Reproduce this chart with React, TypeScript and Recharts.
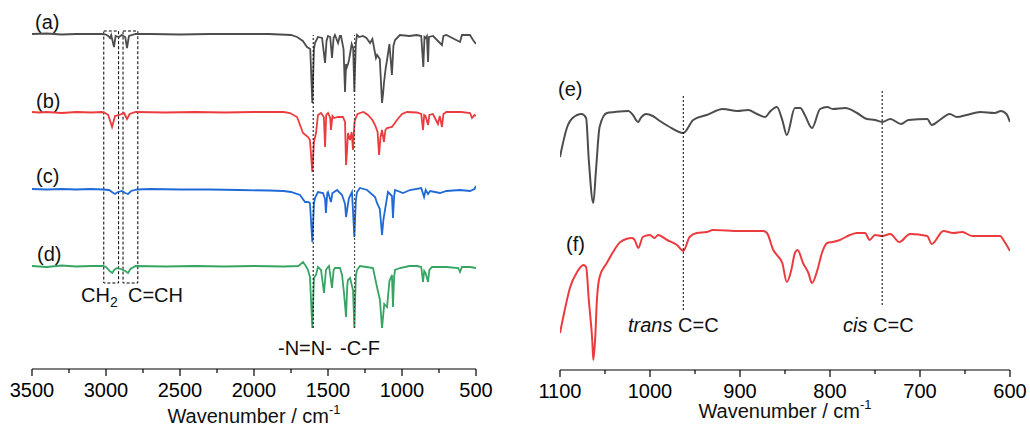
import { LineChart, Line, XAxis, YAxis, ReferenceLine, ReferenceArea } from 'recharts';

const FONT = '"Liberation Sans", Arial, sans-serif';

// FTIR spectra: [wavenumber (cm-1), relative transmittance]
const specA = [
  [3500, 100], [3400, 100.5], [3300, 99.5], [3200, 100], [3100, 100], [3030, 100], [3000, 99.5], [2985, 98], [2973, 96],
  [2965, 99], [2946, 87], [2935, 98], [2912, 97], [2895, 99], [2870, 97], [2858, 86], [2845, 98], [2800, 100], [2700, 100],
  [2500, 99.5], [2300, 100], [2100, 100], [1900, 100], [1750, 99], [1709, 97], [1670, 93], [1642, 87], [1620, 85], [1606, 31],
  [1595, 85], [1588, 91], [1568, 97], [1540, 96], [1520, 71], [1510, 93], [1500, 98], [1485, 97], [1473, 76], [1462, 96],
  [1453, 99], [1432, 91], [1420, 98], [1412, 98], [1395, 85], [1385, 42], [1378, 70], [1372, 67], [1365, 70], [1358, 74],
  [1340, 90], [1330, 86], [1322, 42], [1312, 90], [1304, 99], [1290, 97], [1264, 98], [1240, 96], [1216, 91], [1200, 95],
  [1176, 76], [1168, 79], [1150, 75], [1135, 31], [1128, 40], [1122, 51], [1110, 66], [1101, 74], [1085, 90], [1068, 59],
  [1058, 88], [1047, 94], [1014, 99], [950, 98], [900, 99], [870, 98], [856, 67], [848, 97], [841, 96], [832, 98], [824, 72],
  [818, 97], [790, 98], [730, 89], [720, 98], [700, 99], [608, 92], [595, 99], [560, 99], [541, 99], [520, 94], [500, 90],
];

const specB = [
  [3500, 100], [3450, 99.5], [3400, 100], [3300, 99], [3200, 100], [3100, 99.5], [3030, 100], [3010, 99.5], [2985, 97],
  [2965, 88], [2959, 85], [2950, 90], [2939, 96], [2910, 97], [2878, 99], [2868, 96], [2858, 93], [2840, 98], [2800, 100],
  [2600, 99.5], [2400, 100], [2200, 99.5], [2000, 100], [1800, 100], [1757, 99], [1709, 95], [1669, 79], [1635, 75],
  [1622, 72], [1606, 40], [1595, 70], [1581, 79], [1568, 97], [1547, 99], [1528, 95], [1520, 65], [1512, 97], [1500, 99],
  [1485, 94], [1480, 82], [1470, 96], [1459, 94], [1432, 95], [1399, 95], [1385, 90], [1378, 47], [1372, 60], [1365, 79],
  [1351, 72], [1340, 80], [1331, 62], [1322, 88], [1318, 92], [1300, 98], [1284, 99], [1260, 100], [1230, 97], [1200, 92],
  [1182, 87], [1165, 80], [1155, 57], [1145, 75], [1135, 82], [1122, 70], [1112, 82], [1101, 84], [1068, 85], [1034, 92],
  [1000, 98], [966, 100], [900, 99.5], [870, 98], [858, 82], [850, 97], [841, 96], [824, 87], [815, 97], [791, 98], [757, 88],
  [745, 96], [730, 85], [720, 98], [700, 100], [600, 100], [540, 99], [527, 94], [510, 97], [500, 96],
];

const specC = [
  [3500, 100], [3400, 99.5], [3300, 100], [3200, 99.5], [3100, 100], [3020, 99.5], [2980, 99], [2950, 96], [2939, 95],
  [2920, 97], [2892, 98], [2870, 96], [2851, 95], [2830, 98], [2790, 99.5], [2700, 100], [2500, 99.5], [2300, 99.5],
  [2100, 99], [1900, 98.5], [1800, 98], [1750, 97], [1689, 94], [1655, 87], [1635, 87], [1622, 86], [1606, 47], [1595, 85],
  [1588, 91], [1568, 97], [1534, 96], [1520, 90], [1514, 76], [1505, 96], [1500, 97], [1480, 87], [1470, 96], [1459, 97],
  [1439, 99], [1405, 94], [1385, 85], [1378, 72], [1365, 85], [1358, 91], [1338, 97], [1322, 52], [1312, 88], [1304, 97],
  [1284, 101], [1236, 99], [1182, 92], [1169, 86], [1150, 80], [1135, 54], [1125, 70], [1115, 79], [1095, 97], [1068, 93],
  [1061, 71], [1053, 93], [1047, 99], [993, 96], [946, 99], [870, 101], [851, 92], [840, 99], [824, 95], [810, 98],
  [743, 96], [700, 98], [608, 99], [541, 98], [510, 100], [500, 103],
];

const specD = [
  [3500, 100], [3400, 99], [3300, 100.5], [3200, 99.5], [3100, 100], [3020, 100], [3000, 99], [2975, 95], [2958, 93],
  [2945, 96], [2925, 98], [2900, 97], [2870, 95], [2851, 93], [2835, 97], [2800, 100], [2600, 99.5], [2400, 100],
  [2200, 99.5], [2000, 100], [1800, 99.5], [1700, 100], [1669, 104], [1650, 100], [1635, 96], [1622, 89], [1606, 38],
  [1595, 88], [1581, 91], [1568, 99], [1547, 96], [1527, 73], [1514, 96], [1500, 99], [1493, 100], [1473, 78], [1462, 96],
  [1453, 98], [1419, 98], [1405, 91], [1392, 73], [1378, 49], [1370, 80], [1365, 86], [1351, 88], [1331, 76], [1322, 38],
  [1312, 90], [1304, 96], [1284, 100], [1240, 99], [1196, 98], [1169, 79], [1149, 66], [1135, 38], [1120, 62], [1101, 59],
  [1085, 85], [1068, 91], [1061, 59], [1053, 90], [1047, 96], [1014, 98], [950, 100], [899, 100], [870, 99], [858, 84],
  [850, 95], [841, 93], [824, 84], [815, 96], [797, 99], [700, 99], [620, 98], [608, 94], [595, 99], [540, 99], [500, 98],
];

const specE = [
  [1100, 53], [1092, 83], [1086, 92], [1076, 96], [1071, 92], [1068, 50], [1063, 7], [1060, 40], [1056, 83], [1048, 97],
  [1039, 98], [1024, 99], [1019, 95], [1013, 88], [1011, 91], [1004, 96], [997, 94], [989, 89], [980, 84], [963, 77],
  [952, 90], [937, 95], [919, 101], [903, 99], [891, 100], [881, 96], [872, 93], [867, 98], [859, 103], [853, 90], [848, 75],
  [839, 102], [833, 102], [828, 95], [820, 82], [811, 101], [803, 103], [797, 101], [783, 102], [770, 97], [759, 91],
  [750, 90], [742, 88], [733, 91], [721, 86], [713, 90], [692, 91], [687, 85], [678, 90], [667, 96], [659, 93], [648, 95],
  [633, 98], [617, 97], [610, 99], [604, 96], [600, 88],
];

const specF = [
  [1100, -2], [1094, 24], [1089, 43], [1081, 59], [1074, 66], [1071, 64], [1068, 31], [1064, -12], [1063, -29], [1061, -9],
  [1059, 31], [1056, 54], [1048, 68], [1041, 79], [1033, 89], [1020, 93], [1017, 91], [1013, 83], [1008, 94], [1000, 96],
  [995, 93], [991, 96], [981, 91], [970, 86], [963, 80], [956, 94], [948, 98], [937, 99], [930, 101], [900, 100], [874, 100],
  [870, 98], [863, 81], [859, 76], [853, 68], [848, 49], [843, 61], [839, 78], [836, 81], [830, 68], [824, 58], [820, 48],
  [814, 61], [809, 78], [803, 88], [797, 89], [789, 91], [778, 96], [770, 98], [761, 98], [756, 91], [750, 96], [742, 95],
  [733, 97], [723, 89], [711, 97], [692, 95], [687, 87], [674, 100], [663, 98], [653, 99], [642, 95], [630, 95], [611, 95],
  [606, 89], [600, 80],
];

// stacking offsets for each trace
const OFF_A = 235, OFF_B = 157, OFF_C = 80, OFF_D = 3;
const OFF_E = 160, OFF_F = 39;

const leftTicks = [500, 750, 1000, 1250, 1500, 1750, 2000, 2250, 2500, 2750, 3000, 3250, 3500];
const rightTicks = [600, 650, 700, 750, 800, 850, 900, 950, 1000, 1050, 1100];

const rows = (s: number[][], off: number) => s.map(([w, t]) => ({ w, v: t + off }));

const makeTick = (step: number) => (props: any) => {
  const { x, y, payload } = props;
  const major = payload.value % step === 0;
  return (
    <g>
      <line x1={x} x2={x} y1={y} y2={y + (major ? 7 : 4)} stroke="#000" strokeWidth={1.2} />
      {major && (
        <text x={x} y={y + 28} textAnchor="middle" fontSize={20} fontFamily={FONT} fill="#000">
          {payload.value}
        </text>
      )}
    </g>
  );
};

const txt = { fontSize: 20, fontFamily: FONT, fill: '#111' };

export default function App() {
  const lineProps = { dataKey: 'v', dot: false, isAnimationActive: false, activeDot: false };
  return (
    <div style={{ position: 'absolute', left: 0, top: 0, width: 1030, height: 427, background: '#fff' }}>
      <div style={{ position: 'absolute', left: 0, top: 0 }}>
        <LineChart width={500} height={427} margin={{ top: 10, right: 24, left: 32, bottom: 0 }}>
          <XAxis
            dataKey="w"
            type="number"
            domain={[500, 3500]}
            reversed
            ticks={leftTicks}
            interval={0}
            tickSize={0}
            tickMargin={0}
            tick={makeTick(500)}
            height={58}
            stroke="#000"
            strokeWidth={1.2}
            allowDataOverflow
          />
          <YAxis hide type="number" domain={[0, 359]} allowDataOverflow />
          <ReferenceArea x1={3015} x2={2915} y1={86} y2={338} fill="none" stroke="#000" strokeDasharray="3 2" strokeWidth={1} />
          <ReferenceArea x1={2885} x2={2785} y1={86} y2={338} fill="none" stroke="#000" strokeDasharray="3 2" strokeWidth={1} />
          <Line {...lineProps} type="linear" strokeWidth={1.8} data={rows(specA, OFF_A)} stroke="#4d4d4d" />
          <Line {...lineProps} type="linear" strokeWidth={1.8} data={rows(specB, OFF_B)} stroke="#ec3b3e" />
          <Line {...lineProps} type="linear" strokeWidth={1.8} data={rows(specC, OFF_C)} stroke="#1f6ad8" />
          <Line {...lineProps} type="linear" strokeWidth={1.8} data={rows(specD, OFF_D)} stroke="#36a463" />
          <ReferenceLine segment={[{ x: 1600, y: 41 }, { x: 1600, y: 334 }]} stroke="#000" strokeDasharray="2 2" />
          <ReferenceLine segment={[{ x: 1320, y: 41 }, { x: 1320, y: 334 }]} stroke="#333" strokeDasharray="2 2" />
          <text x={35} y={29} {...txt}>(a)</text>
          <text x={36} y={108} {...txt}>(b)</text>
          <text x={36} y={183} {...txt}>(c)</text>
          <text x={37} y={261} {...txt}>(d)</text>
          <text x={81} y={302} {...txt}>CH<tspan fontSize={14} dy={5}>2</tspan></text>
          <text x={128} y={302} dy={0} {...txt}>C=CH</text>
          <text x={278} y={355} {...txt}>-N=N-</text>
          <text x={340} y={355} {...txt}>-C-F</text>
          <text x={254} y={423} textAnchor="middle" {...txt}>
            Wavenumber / cm<tspan fontSize={13} dy={-9}>-1</tspan>
          </text>
        </LineChart>
      </div>
      <div style={{ position: 'absolute', left: 520, top: 0 }}>
        <LineChart width={510} height={427} margin={{ top: 70, right: 20, left: 40, bottom: 0 }}>
          <XAxis
            dataKey="w"
            type="number"
            domain={[600, 1100]}
            reversed
            ticks={rightTicks}
            interval={0}
            tickSize={0}
            tickMargin={0}
            tick={makeTick(100)}
            height={57}
            stroke="#000"
            strokeWidth={1.2}
            allowDataOverflow
          />
          <YAxis hide type="number" domain={[0, 300]} allowDataOverflow />
          <Line {...lineProps} type="monotone" strokeWidth={2} data={rows(specE, OFF_E)} stroke="#4d4d4d" />
          <Line {...lineProps} type="monotone" strokeWidth={2} data={rows(specF, OFF_F)} stroke="#ec3b3e" />
          <ReferenceLine segment={[{ x: 963, y: 60 }, { x: 963, y: 275 }]} stroke="#000" strokeDasharray="2 2" />
          <ReferenceLine segment={[{ x: 742, y: 65 }, { x: 742, y: 280 }]} stroke="#000" strokeDasharray="2 2" />
          <text x={38} y={96} {...txt}>(e)</text>
          <text x={46} y={251} {...txt}>(f)</text>
          <text x={108} y={332} {...txt}><tspan fontStyle="italic">trans</tspan> C=C</text>
          <text x={323} y={332} {...txt}><tspan fontStyle="italic">cis</tspan> C=C</text>
          <text x={265} y={418} textAnchor="middle" {...txt}>
            Wavenumber / cm<tspan fontSize={13} dy={-9}>-1</tspan>
          </text>
        </LineChart>
      </div>
    </div>
  );
}
